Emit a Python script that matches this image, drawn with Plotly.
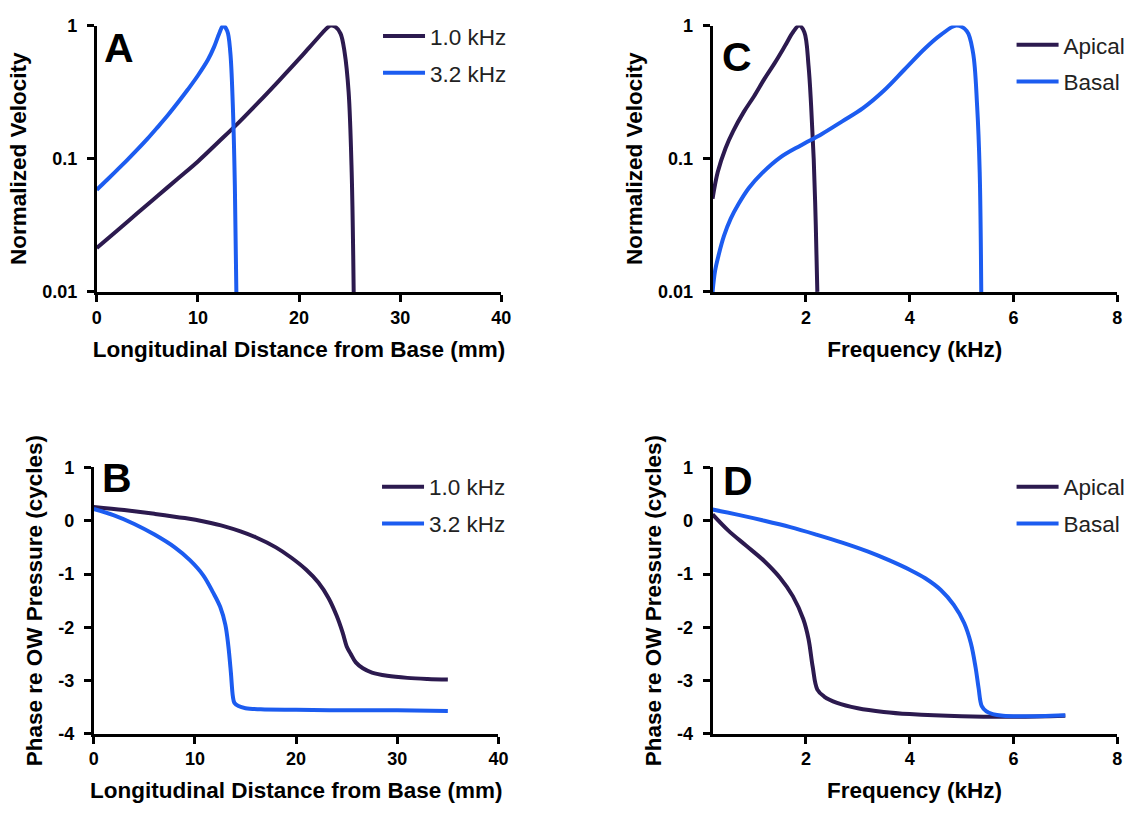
import plotly.graph_objects as go

FONT = "Liberation Sans, Arial, sans-serif"
DARK = "#2C1A4F"
BLUE = "#1C5CF0"

# ---- Panel A: normalized velocity vs. distance from base ----
a_x_1k = [0, 2, 4, 6, 8, 10, 12, 14, 16, 18, 20, 21, 22, 22.6, 23.1, 23.6, 24.1, 24.5, 24.9, 25.2, 25.4]
a_y_1k = [0.0214, 0.0288, 0.0389, 0.0525, 0.0708, 0.0955, 0.133, 0.186, 0.266, 0.385, 0.562,
          0.684, 0.832, 0.933, 1.0, 0.977, 0.871, 0.631, 0.316, 0.0794, 0.01]
a_x_3k = [0, 1, 2, 3, 4, 5, 6, 7, 8, 9, 10, 11, 11.6, 12.1, 12.5, 12.9, 13.2, 13.45, 13.65, 13.8]
a_y_3k = [0.0585, 0.0692, 0.0822, 0.0977, 0.117, 0.141, 0.172, 0.211, 0.263, 0.331, 0.422,
          0.556, 0.692, 0.871, 1.0, 0.912, 0.631, 0.251, 0.0631, 0.01]

# ---- Panel B: phase vs. distance from base ----
b_x_1k = [0, 3, 6, 9, 11, 13, 14.5, 16, 18, 19.5, 21, 22.2, 23.2, 24.0, 24.6, 25.0, 25.4, 25.9,
          26.6, 27.5, 29, 31, 33, 35]
b_y_1k = [0.26, 0.2, 0.13, 0.05, -0.02, -0.11, -0.2, -0.31, -0.5, -0.69, -0.92, -1.16, -1.45,
          -1.78, -2.1, -2.36, -2.5, -2.66, -2.77, -2.85, -2.91, -2.95, -2.97, -2.98]
b_x_3k = [0, 2, 4, 6, 8, 9.5, 10.8, 11.8, 12.5, 13.0, 13.3, 13.55, 13.75, 13.9, 14.3, 15, 16.5,
          20, 25, 30, 35]
b_y_3k = [0.22, 0.1, -0.06, -0.26, -0.5, -0.74, -1.02, -1.35, -1.62, -1.95, -2.35, -2.85, -3.3,
          -3.42, -3.48, -3.52, -3.54, -3.55, -3.56, -3.56, -3.57]

# ---- Panel C: normalized velocity vs. frequency ----
c_x_apical = [0.2, 0.3, 0.45, 0.6, 0.8, 1.0, 1.2, 1.4, 1.6, 1.75, 1.87, 1.97, 2.05, 2.10, 2.15,
              2.19, 2.22]
c_y_apical = [0.0501, 0.0794, 0.120, 0.162, 0.224, 0.295, 0.398, 0.525, 0.708, 0.891, 1.0, 0.891,
              0.501, 0.251, 0.1, 0.0316, 0.01]
c_x_basal = [0.2, 0.25, 0.32, 0.42, 0.55, 0.7, 0.9, 1.15, 1.5, 1.9, 2.3, 2.7, 3.1, 3.5, 3.9, 4.3,
             4.6, 4.9, 5.1, 5.22, 5.3, 5.35, 5.38]
c_y_basal = [0.01, 0.0145, 0.0191, 0.0263, 0.0355, 0.0457, 0.0603, 0.0776, 0.102, 0.126, 0.153,
             0.191, 0.240, 0.324, 0.468, 0.676, 0.851, 1.0, 0.912, 0.631, 0.251, 0.0794, 0.01]

# ---- Panel D: phase vs. frequency ----
d_x_apical = [0.2, 0.5, 0.85, 1.2, 1.5, 1.75, 1.95, 2.05, 2.13, 2.22, 2.35, 2.6, 3.0, 3.5, 4.0,
              5.0, 6.0, 7.0]
d_y_apical = [0.12, -0.18, -0.47, -0.76, -1.07, -1.42, -1.85, -2.22, -2.74, -3.17, -3.30, -3.42,
              -3.52, -3.59, -3.63, -3.67, -3.68, -3.66]
d_x_basal = [0.2, 0.7, 1.2, 1.7, 2.2, 2.7, 3.2, 3.6, 4.0, 4.3, 4.6, 4.85, 5.05, 5.18, 5.27, 5.33,
             5.39, 5.48, 5.6, 5.8, 6.2, 7.0]
d_y_basal = [0.21, 0.11, 0.0, -0.12, -0.26, -0.41, -0.58, -0.74, -0.92, -1.08, -1.30, -1.58,
             -1.92, -2.3, -2.75, -3.15, -3.48, -3.58, -3.63, -3.66, -3.67, -3.65]

# tick labels
log_tickvals = [0.01, 0.1, 1]
log_ticktext = ["0.01", "0.1", "1"]
phase_tickvals = [-4, -3, -2, -1, 0, 1]
phase_ticktext = ["-4", "-3", "-2", "-1", "0", "1"]
dist_ticks = [0, 10, 20, 30, 40]
freq_ticks = [2, 4, 6, 8]

DIST_TITLE = "Longitudinal Distance from Base (mm)"
FREQ_TITLE = "Frequency (kHz)"

W, H = 1139, 815


def px_x(p):
    return p / W


def px_y(p):
    return 1 - p / H


fig = go.Figure()


def add_line(x, y, name, color, xa, ya, legend, group):
    fig.add_trace(go.Scatter(
        x=x, y=y, name=name, mode="lines",
        line=dict(color=color, width=4, shape="spline", smoothing=1.0),
        xaxis=xa, yaxis=ya, legend=legend, legendgroup=group,
    ))


add_line(a_x_1k, a_y_1k, "1.0 kHz", DARK, "x", "y", "legend", "a1")
add_line(a_x_3k, a_y_3k, "3.2 kHz", BLUE, "x", "y", "legend", "a2")
add_line(b_x_1k, b_y_1k, "1.0 kHz", DARK, "x2", "y2", "legend2", "b1")
add_line(b_x_3k, b_y_3k, "3.2 kHz", BLUE, "x2", "y2", "legend2", "b2")
add_line(c_x_apical, c_y_apical, "Apical", DARK, "x3", "y3", "legend3", "c1")
add_line(c_x_basal, c_y_basal, "Basal", BLUE, "x3", "y3", "legend3", "c2")
add_line(d_x_apical, d_y_apical, "Apical", DARK, "x4", "y4", "legend4", "d1")
add_line(d_x_basal, d_y_basal, "Basal", BLUE, "x4", "y4", "legend4", "d2")

TITLE_FONT = dict(family=FONT, size=22.5, color="black", weight="bold")

axis_common = dict(
    showline=True, linecolor="black", linewidth=3,
    ticks="outside", ticklen=7, tickwidth=3, tickcolor="black",
    showgrid=False, zeroline=False, mirror=False,
    tickfont=dict(family=FONT, size=18, color="black", weight="bold"),
    title_font=TITLE_FONT,
)
yaxis_common = dict(axis_common, ticklabelstandoff=6)

top = [px_y(289), px_y(16)]
bottom = [px_y(742), px_y(469)]
left_a = [px_x(93), px_x(503)]
left_b = [px_x(90), px_x(500)]
right = [px_x(717), px_x(1127)]

fig.update_layout(
    width=W, height=H,
    margin=dict(l=0, r=0, t=0, b=0),
    paper_bgcolor="white", plot_bgcolor="white",
    xaxis=dict(axis_common, domain=left_a, range=[0, 40], tickvals=dist_ticks,
               anchor="y", title=dict(text=DIST_TITLE)),
    yaxis=dict(yaxis_common, domain=top, type="log", range=[-2, 0], tickvals=log_tickvals,
               ticktext=log_ticktext, anchor="x",
               title=dict(text="Normalized Velocity", standoff=10)),
    xaxis2=dict(axis_common, domain=left_b, range=[0, 40], tickvals=dist_ticks, anchor="y2"),
    yaxis2=dict(yaxis_common, domain=bottom, range=[-4, 1], tickvals=phase_tickvals,
                ticktext=phase_ticktext, anchor="x2",
                title=dict(text="Phase re OW Pressure (cycles)", standoff=10)),
    xaxis3=dict(axis_common, domain=right, range=[0.2, 8], tickvals=freq_ticks,
                anchor="y3", title=dict(text=FREQ_TITLE)),
    yaxis3=dict(yaxis_common, domain=top, type="log", range=[-2, 0], tickvals=log_tickvals,
                ticktext=log_ticktext, anchor="x3",
                title=dict(text="Normalized Velocity", standoff=10)),
    xaxis4=dict(axis_common, domain=right, range=[0.2, 8], tickvals=freq_ticks, anchor="y4"),
    yaxis4=dict(yaxis_common, domain=bottom, range=[-4, 1], tickvals=phase_tickvals,
                ticktext=phase_ticktext, anchor="x4",
                title=dict(text="Phase re OW Pressure (cycles)", standoff=10)),
    showlegend=True,
)

# x titles of the lower row sit close to the page edge, so place them as text
for text, dom in [(DIST_TITLE, left_b), (FREQ_TITLE, right)]:
    fig.add_annotation(
        text=text, x=(dom[0] + dom[1]) / 2, y=px_y(800), xref="paper", yref="paper",
        xanchor="center", yanchor="middle", showarrow=False, font=TITLE_FONT,
    )

legend_common = dict(
    xanchor="left", yanchor="top", bgcolor="rgba(0,0,0,0)",
    font=dict(family=FONT, size=22.5, color="#222222"),
    itemwidth=42, tracegroupgap=4.5, traceorder="grouped",
)
fig.update_layout(
    legend=dict(legend_common, x=px_x(378), y=px_y(5)),
    legend2=dict(legend_common, x=px_x(377), y=px_y(467)),
    legend3=dict(legend_common, x=px_x(1020), y=px_y(14)),
    legend4=dict(legend_common, x=px_x(1020), y=px_y(467)),
)

# panel letters
for letter, cx, cy in [("A", 116, 39), ("B", 113, 480), ("C", 742, 48), ("D", 743, 483)]:
    fig.add_annotation(
        text=letter, x=px_x(cx), y=px_y(cy), xref="paper", yref="paper",
        xanchor="center", yanchor="middle", showarrow=False,
        font=dict(family=FONT, size=41, color="black", weight="bold"),
    )

fig.write_html("out.html")
